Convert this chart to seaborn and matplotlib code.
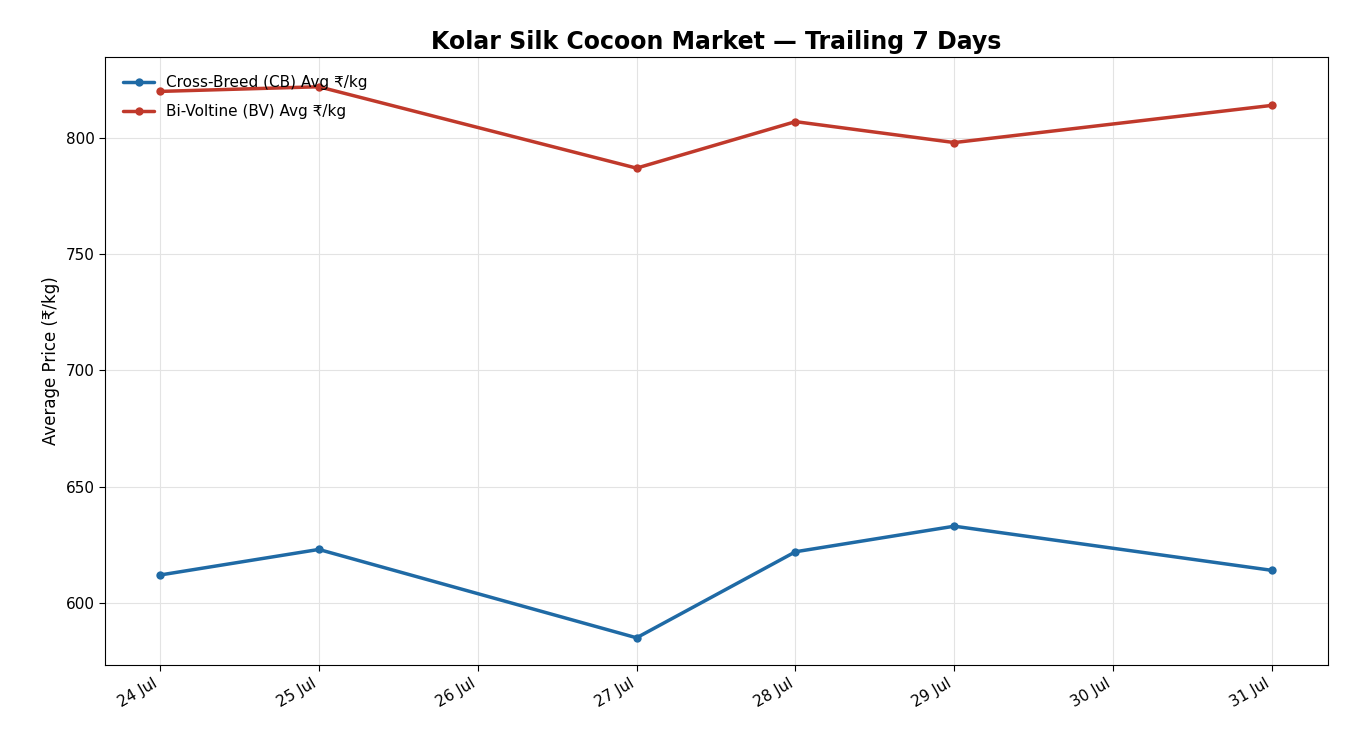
import matplotlib
matplotlib.use("Agg")
import matplotlib.pyplot as plt
import matplotlib.dates as mdates
import seaborn as sns
import pandas as pd

dates = ["2024-07-24", "2024-07-25", "2024-07-27", "2024-07-28", "2024-07-29", "2024-07-31"]
cb_prices = [612, 623, 585, 622, 633, 614]
bv_prices = [820, 822, 787, 807, 798, 814]

sns.set_style("white")
plt.rcParams['font.family'] = ['DejaVu Sans']
plt.rcParams['text.color'] = 'black'
plt.rcParams['axes.labelcolor'] = 'black'
plt.rcParams['xtick.color'] = 'black'
plt.rcParams['ytick.color'] = 'black'

df = pd.DataFrame({
    "date": pd.to_datetime(dates * 2),
    "price": cb_prices + bv_prices,
    "series": ["Cross-Breed (CB) Avg ₹/kg"] * 6 + ["Bi-Voltine (BV) Avg ₹/kg"] * 6,
})

fig = plt.figure(figsize=(13.5, 7.5), dpi=100)
ax = fig.add_axes([105/1350, 1-665/750, (1328-105)/1350, (665-57)/750])
sns.lineplot(data=df, x="date", y="price", hue="series", marker="o",
             palette=["#1f6aa5", "#c0392b"], linewidth=2.5, markersize=6,
             markeredgewidth=0, ax=ax)
ax.set_ylim(573.3, 834.8)
ax.set_xlim(pd.Timestamp("2024-07-24") - pd.Timedelta(hours=8.3),
            pd.Timestamp("2024-07-31") + pd.Timedelta(hours=8.45))
ax.xaxis.set_major_locator(mdates.DayLocator())
ax.xaxis.set_major_formatter(mdates.DateFormatter("%d %b"))
for lbl in ax.get_xticklabels():
    lbl.set_rotation(30)
    lbl.set_ha("right")
ax.tick_params(labelsize=11, length=4, color="black", direction="out", bottom=True, left=True)
ax.grid(True, color="#e3e3e3", linewidth=0.8)
for s in ax.spines.values():
    s.set_color("black")
ax.set_xlabel("")
ax.set_ylabel("Average Price (₹/kg)", fontsize=12)
ax.set_title("Kolar Silk Cocoon Market — Trailing 7 Days", fontsize=17, fontweight="bold", color="black")
ax.legend(loc="upper left", frameon=False, fontsize=11, title=None,
          borderaxespad=0.8, handlelength=2, labelspacing=0.9)
fig.savefig("out.png", dpi=100)
